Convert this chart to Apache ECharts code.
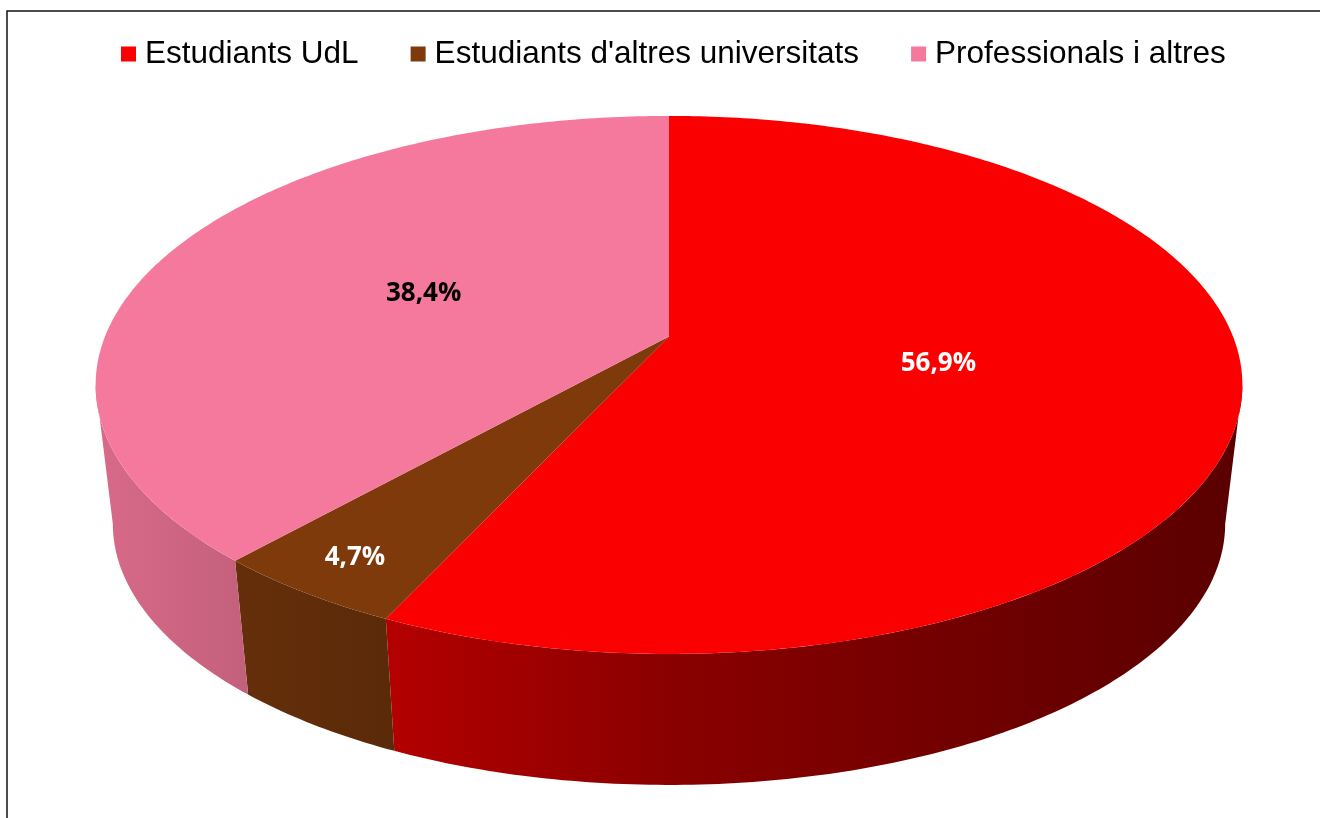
<!DOCTYPE html>
<html>
<head>
<meta charset="utf-8">
<script src="https://cdn.jsdelivr.net/npm/echarts@6/dist/echarts.min.js"></script>
<style>
html, body { margin: 0; padding: 0; background: #fff; }
#chart { width: 1320px; height: 818px; }
</style>
</head>
<body>
<div id="chart"></div>
<script>
// data
const categories = ['Estudiants UdL', "Estudiants d'altres universitats", 'Professionals i altres'];
const shares = [56.9, 4.7, 38.4];
const labelTexts = ['56,9%', '4,7%', '38,4%'];
const colors = ['#FA0000', '#7F3A0C', '#F5799C'];
const labelColors = ['#FFFFFF', '#FFFFFF', '#000000'];

// disc geometry (perspective view, like the 3D pie in Excel)
const CX = 669, CY_TOP = 336.5, CY_BOT = 477;
const RX = 564, RY = 260.3, P = 0.18, BOTTOM_SCALE = 0.97;
const SIDE_SHADE = [[0, 0.88], [0.25, 0.72], [0.5, 0.55], [1, 0.36]];
// angles where the rim turns away from the viewer
const FRONT_FROM = Math.acos(-P), FRONT_TO = Math.PI * 2 - Math.acos(-P);

function project(theta, r, cy, s) {
    const sn = Math.sin(theta), cs = Math.cos(theta);
    const k = 1 / (1 + P * r * cs);
    return [CX + RX * s * r * sn * k, cy - RY * s * r * cs * k];
}

function shade(hex, f) {
    const n = parseInt(hex.slice(1), 16);
    const r = Math.round(((n >> 16) & 255) * f);
    const g = Math.round(((n >> 8) & 255) * f);
    const b = Math.round((n & 255) * f);
    return `rgb(${r},${g},${b})`;
}

function arc(a0, a1, cy, s) {
    const pts = [];
    const steps = Math.max(2, Math.ceil((a1 - a0) / (Math.PI / 240)));
    for (let i = 0; i <= steps; i++) {
        pts.push(project(a0 + (a1 - a0) * i / steps, 1, cy, s));
    }
    return pts;
}

function makeRenderItem(idx) {
    return function (params, api) {
        const total = shares.reduce((a, b) => a + b, 0);
        let before = 0;
        for (let i = 0; i < idx; i++) before += shares[i];
        const value = api.value(0);
        const a0 = before / total * Math.PI * 2;
        const a1 = (before + value) / total * Math.PI * 2;
        const children = [];

        // front wall (only the part facing the viewer)
        const s0 = Math.max(a0, FRONT_FROM), s1 = Math.min(a1, FRONT_TO);
        if (s1 > s0) {
            const top = arc(s0, s1, CY_TOP, 1);
            const bottom = arc(s0, s1, CY_BOT, BOTTOM_SCALE).reverse();
            const w = RX * 1.014;
            children.push({
                type: 'polygon',
                z2: 1,
                shape: { points: top.concat(bottom) },
                style: {
                    fill: new echarts.graphic.LinearGradient(CX - w, 0, CX + w, 0,
                        SIDE_SHADE.map(([o, f]) => ({ offset: o, color: shade(colors[idx], f) })), true)
                }
            });
        }

        // top face
        children.push({
            type: 'polygon',
            z2: 5,
            shape: { points: [[CX, CY_TOP]].concat(arc(a0, a1, CY_TOP, 1)) },
            style: { fill: colors[idx] }
        });

        // label
        const mid = (a0 + a1) / 2;
        const r = value / total < 0.1 ? 0.88 : 0.48;
        const pos = project(mid, r, CY_TOP, 1);
        children.push({
            type: 'text',
            z2: 10,
            style: {
                text: labelTexts[idx],
                x: pos[0],
                y: pos[1],
                fill: labelColors[idx],
                font: 'bold 26px "Open Sans", sans-serif',
                align: 'center',
                verticalAlign: 'middle'
            }
        });

        return { type: 'group', children };
    };
}

const chart = echarts.init(document.getElementById('chart'), null, { renderer: 'canvas' });

chart.setOption({
    animation: false,
    backgroundColor: '#fff',
    graphic: [{
        type: 'rect',
        silent: true,
        z: -1,
        shape: { x: 7, y: 11, width: 1400, height: 1000 },
        style: { fill: 'none', stroke: '#111', lineWidth: 1.5 }
    }],
    legend: {
        top: 33,
        left: 116,
        icon: 'rect',
        itemWidth: 15,
        itemHeight: 15,
        itemGap: 52,
        selectedMode: false,
        data: categories,
        textStyle: {
            fontFamily: '"Liberation Sans", Arial, sans-serif',
            fontSize: 31.5,
            color: '#000',
            padding: [0, 0, 0, 4]
        }
    },
    series: categories.map((name, i) => ({
        type: 'custom',
        name: name,
        coordinateSystem: 'none',
        silent: true,
        itemStyle: { color: colors[i] },
        data: [[shares[i]]],
        renderItem: makeRenderItem(i)
    }))
});
</script>
</body>
</html>
